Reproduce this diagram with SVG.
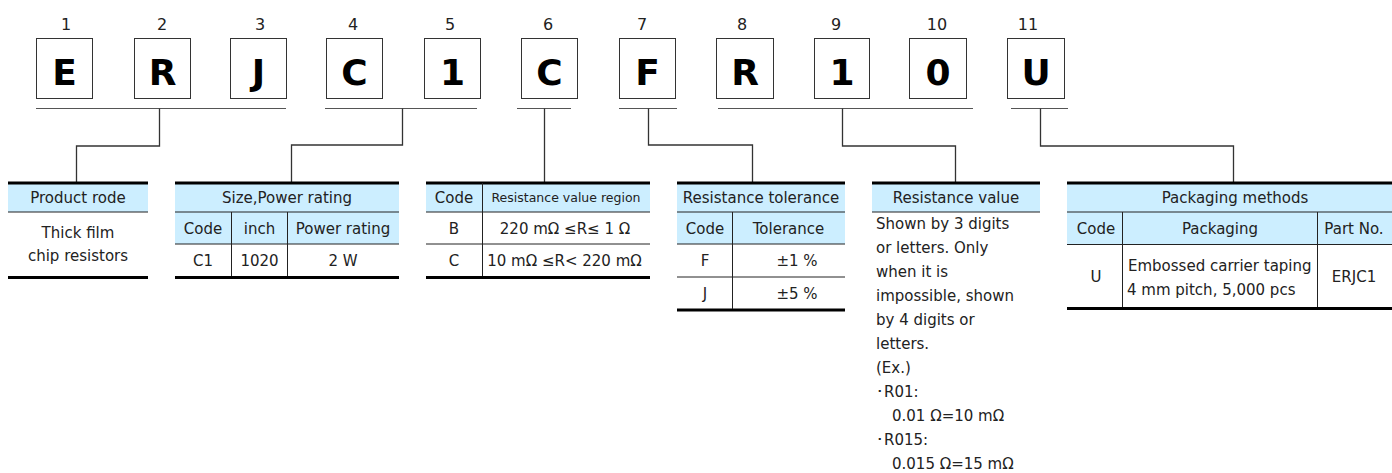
<svg xmlns="http://www.w3.org/2000/svg" width="1392" height="473" viewBox="0 0 1392 473">
<style>
.box{fill:#fff;stroke:#333;stroke-width:1}
.big{font-family:"DejaVu Sans",Verdana,sans-serif;font-weight:bold;font-size:36px;text-anchor:middle;fill:#000}
.num{font-family:"DejaVu Sans",Verdana,sans-serif;font-size:16px;text-anchor:middle;fill:#222}
.hdr{fill:#cceeff}
.t{font-family:"DejaVu Sans",Verdana,sans-serif;font-size:15px;fill:#222}
.c{text-anchor:middle}
.s{font-size:12.5px}
.thick{stroke:#000;stroke-width:3}
.thin{stroke:#222;stroke-width:1}
.conn{fill:none;stroke:#333;stroke-width:1.3}
.ul{stroke:#555;stroke-width:1}
</style>
<rect width="1392" height="473" fill="#fff"/>

<g id="code-boxes">
<g id="box1"><text class="num" x="66" y="30">1</text><rect class="box" x="36.5" y="38.5" width="56" height="60"/><text class="big" x="64.5" y="85">E</text></g>
<g id="box2"><text class="num" x="162" y="30">2</text><rect class="box" x="134.5" y="38.5" width="56" height="60"/><text class="big" x="162.5" y="85">R</text></g>
<g id="box3"><text class="num" x="260" y="30">3</text><rect class="box" x="230.5" y="38.5" width="56" height="60"/><text class="big" x="258.5" y="85">J</text></g>
<g id="box4"><text class="num" x="353" y="30">4</text><rect class="box" x="326.5" y="38.5" width="56" height="60"/><text class="big" x="354.5" y="85">C</text></g>
<g id="box5"><text class="num" x="450" y="30">5</text><rect class="box" x="424.5" y="38.5" width="56" height="60"/><text class="big" x="452.5" y="85">1</text></g>
<g id="box6"><text class="num" x="548" y="30">6</text><rect class="box" x="521.5" y="38.5" width="56" height="60"/><text class="big" x="549.5" y="85">C</text></g>
<g id="box7"><text class="num" x="642" y="30">7</text><rect class="box" x="619.5" y="38.5" width="56" height="60"/><text class="big" x="647.5" y="85">F</text></g>
<g id="box8"><text class="num" x="742" y="30">8</text><rect class="box" x="716.5" y="38.5" width="57" height="60"/><text class="big" x="745" y="85">R</text></g>
<g id="box9"><text class="num" x="836" y="30">9</text><rect class="box" x="814.5" y="38.5" width="55" height="60"/><text class="big" x="842" y="85">1</text></g>
<g id="box10"><text class="num" x="937" y="30">10</text><rect class="box" x="909.5" y="38.5" width="57" height="60"/><text class="big" x="938" y="85">0</text></g>
<g id="box11"><text class="num" x="1028" y="30">11</text><rect class="box" x="1007.5" y="38.5" width="57" height="60"/><text class="big" x="1036" y="85">U</text></g>
</g>

<g id="connectors">
<line class="ul" x1="36" y1="108.5" x2="286" y2="108.5"/>
<line class="ul" x1="325" y1="108.5" x2="477" y2="108.5"/>
<line class="ul" x1="517" y1="108.5" x2="571" y2="108.5"/>
<line class="ul" x1="619" y1="108.5" x2="677" y2="108.5"/>
<line class="ul" x1="718" y1="108.5" x2="973" y2="108.5"/>
<line class="ul" x1="1011" y1="108.5" x2="1068" y2="108.5"/>
<path class="conn" d="M159.5,108.5 V146 H76.5 V182"/>
<path class="conn" d="M402.5,108.5 V145 H291.5 V182"/>
<path class="conn" d="M544.5,108.5 V182"/>
<path class="conn" d="M648.5,108.5 V145 H752.5 V182"/>
<path class="conn" d="M842.5,108.5 V146 H955.5 V182"/>
<path class="conn" d="M1040.5,108.5 V146 H1233.5 V182"/>
</g>

<g id="table-product">
<rect class="hdr" x="8" y="183" width="140" height="29"/>
<line class="thick" x1="8" y1="183" x2="148" y2="183"/>
<line class="thin" x1="8" y1="212" x2="148" y2="212"/>
<line class="thick" x1="8" y1="277.5" x2="148" y2="277.5"/>
<text class="t c" x="78" y="203">Product rode</text>
<text class="t c" x="78" y="238">Thick film</text>
<text class="t c" x="78" y="261">chip resistors</text>
</g>

<g id="table-size">
<rect class="hdr" x="175" y="183" width="224" height="61"/>
<line class="thick" x1="175" y1="183" x2="399" y2="183"/>
<line class="thin" x1="175" y1="212" x2="399" y2="212"/>
<line class="thin" x1="175" y1="244" x2="399" y2="244"/>
<line class="thick" x1="175" y1="277.5" x2="399" y2="277.5"/>
<line class="thin" x1="231.5" y1="212" x2="231.5" y2="276"/>
<line class="thin" x1="287.5" y1="212" x2="287.5" y2="276"/>
<text class="t c" x="287" y="203">Size,Power rating</text>
<text class="t c" x="203" y="233.5">Code</text>
<text class="t c" x="259.5" y="233.5">inch</text>
<text class="t c" x="343" y="233.5">Power rating</text>
<text class="t c" x="203" y="266">C1</text>
<text class="t c" x="259.5" y="266">1020</text>
<text class="t c" x="343" y="266">2 W</text>
</g>

<g id="table-region">
<rect class="hdr" x="426" y="183" width="224" height="29"/>
<line class="thick" x1="426" y1="183" x2="650" y2="183"/>
<line class="thin" x1="426" y1="212" x2="650" y2="212"/>
<line class="thin" x1="426" y1="244" x2="650" y2="244"/>
<line class="thick" x1="426" y1="277.5" x2="650" y2="277.5"/>
<line class="thin" x1="482.5" y1="183" x2="482.5" y2="276"/>
<text class="t c" x="454" y="203">Code</text>
<text class="t c s" x="566" y="202">Resistance value region</text>
<text class="t c" x="454" y="233.5">B</text>
<text class="t c" x="565" y="233.5">220 mΩ ≤R≤ 1 Ω</text>
<text class="t c" x="454" y="266">C</text>
<text class="t c" x="564.5" y="266">10 mΩ ≤R&lt; 220 mΩ</text>
</g>

<g id="table-tolerance">
<rect class="hdr" x="677" y="183" width="168" height="61"/>
<line class="thick" x1="677" y1="183" x2="845" y2="183"/>
<line class="thin" x1="677" y1="212" x2="845" y2="212"/>
<line class="thin" x1="677" y1="244" x2="845" y2="244"/>
<line class="thin" x1="677" y1="277" x2="845" y2="277"/>
<line class="thick" x1="677" y1="310" x2="845" y2="310"/>
<line class="thin" x1="732.5" y1="212" x2="732.5" y2="309"/>
<text class="t c" x="761" y="203">Resistance tolerance</text>
<text class="t c" x="705" y="233.5">Code</text>
<text class="t c" x="788.5" y="233.5">Tolerance</text>
<text class="t c" x="705" y="266">F</text>
<text class="t c" x="797" y="266">±1 %</text>
<text class="t c" x="705" y="299">J</text>
<text class="t c" x="797" y="299">±5 %</text>
</g>

<g id="table-value">
<rect class="hdr" x="872" y="183" width="168" height="29"/>
<line class="thick" x1="872" y1="183" x2="1040" y2="183"/>
<line class="thin" x1="872" y1="212" x2="1040" y2="212"/>
<text class="t c" x="956" y="203">Resistance value</text>
<text class="t" x="876" y="229">Shown by 3 digits</text>
<text class="t" x="876" y="253">or letters. Only</text>
<text class="t" x="876" y="277">when it is</text>
<text class="t" x="876" y="301">impossible, shown</text>
<text class="t" x="876" y="325">by 4 digits or</text>
<text class="t" x="876" y="349">letters.</text>
<text class="t" x="876" y="373">(Ex.)</text>
<text class="t" x="876" y="397">･R01:</text>
<text class="t" x="892" y="421">0.01 Ω=10 mΩ</text>
<text class="t" x="876" y="445">･R015:</text>
<text class="t" x="892" y="469">0.015 Ω=15 mΩ</text>
</g>

<g id="table-packaging">
<rect class="hdr" x="1067" y="183" width="325" height="61.5"/>
<line class="thick" x1="1067" y1="183" x2="1392" y2="183"/>
<line class="thin" x1="1067" y1="212" x2="1392" y2="212"/>
<line class="thin" x1="1067" y1="244.5" x2="1392" y2="244.5"/>
<line class="thick" x1="1067" y1="308.5" x2="1392" y2="308.5"/>
<line class="thin" x1="1122.5" y1="212" x2="1122.5" y2="307"/>
<line class="thin" x1="1317.5" y1="212" x2="1317.5" y2="307"/>
<text class="t c" x="1235" y="203">Packaging methods</text>
<text class="t c" x="1096" y="233.5">Code</text>
<text class="t c" x="1220" y="233.5">Packaging</text>
<text class="t c" x="1354" y="233.5">Part No.</text>
<text class="t c" x="1096" y="282">U</text>
<text class="t" x="1128" y="271" font-size="12.8">Embossed carrier taping</text>
<text class="t" x="1127" y="295" font-size="15.5">4 mm pitch, 5,000 pcs</text>
<text class="t c" x="1354" y="282">ERJC1</text>
</g>
</svg>
